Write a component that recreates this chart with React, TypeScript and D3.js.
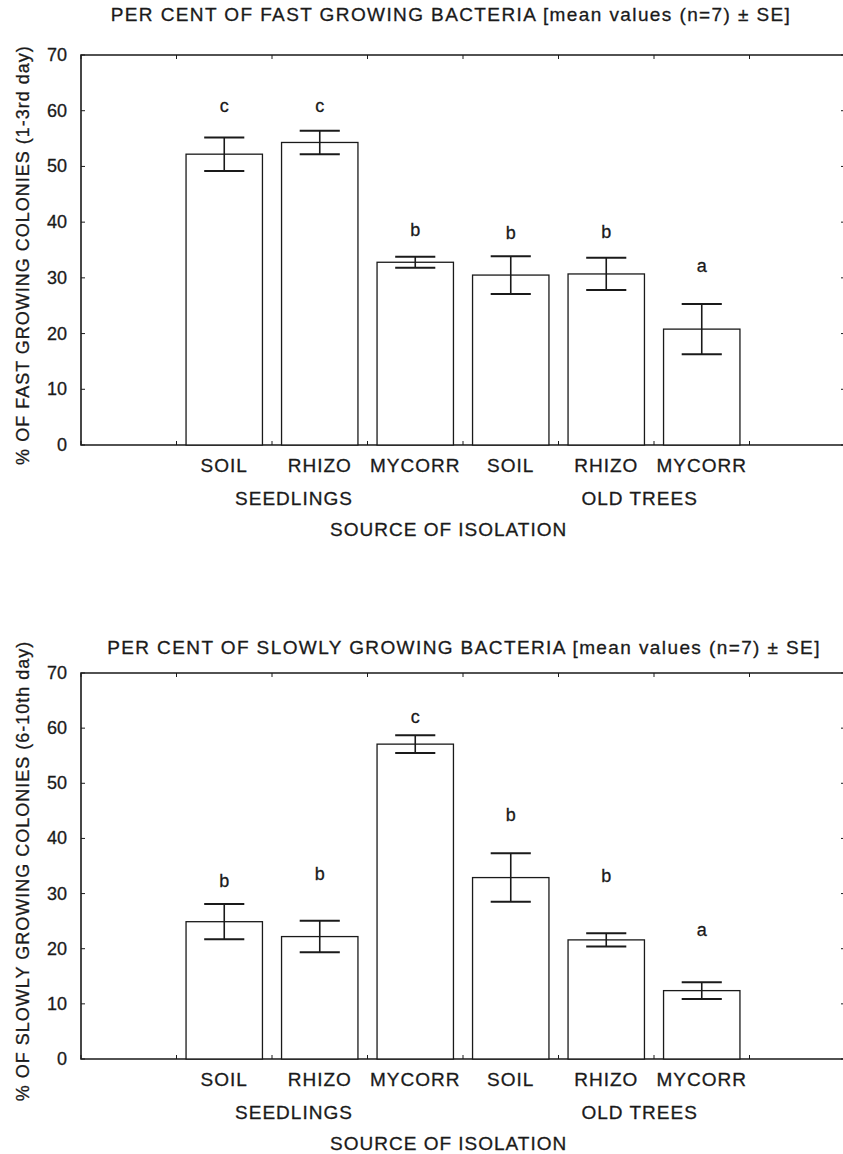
import * as d3 from "d3";

const categories = ["SOIL", "RHIZO", "MYCORR", "SOIL", "RHIZO", "MYCORR"];
const groupLabels = ["SEEDLINGS", "OLD TREES"];
// slot positions (in x-scale units) where the group labels sit
const groupSlots = [2.23, 5.85];
const yTicks = [0, 10, 20, 30, 40, 50, 60, 70];

const fastMeans = [52.2, 54.3, 32.8, 30.5, 30.7, 20.8];
const fastSE = [3.0, 2.1, 1.0, 3.4, 2.9, 4.5];
const fastLetters = ["c", "c", "b", "b", "b", "a"];
const fastLetterLevel = [60.8, 60.8, 38.6, 38.0, 38.3, 32.1];

const slowMeans = [24.9, 22.2, 57.1, 32.9, 21.6, 12.4];
const slowSE = [3.2, 2.85, 1.6, 4.4, 1.2, 1.5];
const slowLetters = ["b", "b", "c", "b", "b", "a"];
const slowLetterLevel = [32.2, 33.6, 62.0, 44.2, 33.1, 23.4];

const font = "'Liberation Sans', Arial, Helvetica, sans-serif";
const ink = "#1a1a1a";
const txt = { stroke: ink, strokeWidth: 0.3 };

type PanelProps = {
  title: string;
  yTitle: string;
  means: number[];
  se: number[];
  letters: string[];
  letterLevel: number[];
  yTop: number;
  yBottom: number;
  titleY: number;
  titleX: number;
};

function Panel({ title, yTitle, means, se, letters, letterLevel, yTop, yBottom, titleY, titleX }: PanelProps) {
  // 8 slots across the frame, bars sit in slots 1..6
  const x = d3.scaleLinear().domain([0, 8]).range([81, 845]);
  const y = d3.scaleLinear().domain([0, 70]).range([yBottom, yTop]);
  const step = x(1) - x(0);
  const barW = step * 0.8;
  const capW = step * 0.42;
  const cx = (i: number) => x(i + 1.5);
  const slots = d3.range(0, 9);

  return (
    <g fontFamily={font} fill={ink}>
      <text x={titleX} y={titleY} fontSize={19} letterSpacing={1.4} textAnchor="middle" {...txt}>
        {title}
      </text>

      {/* frame */}
      <path
        d={`M${x(8)},${y(70)}H${x(0)}V${y(0)}H${x(8)}`}
        fill="none"
        stroke={ink}
        strokeWidth={1.6}
      />
      <line x1={x(8)} x2={x(8)} y1={y(70)} y2={y(0)} stroke={ink} strokeWidth={1.6} />

      {/* small inside ticks */}
      {slots.map((s) => (
        <g key={s}>
          <line x1={x(s)} x2={x(s)} y1={y(0)} y2={y(0) - 4} stroke={ink} strokeWidth={1} />
          <line x1={x(s)} x2={x(s)} y1={y(70)} y2={y(70) + 4} stroke={ink} strokeWidth={1} />
        </g>
      ))}
      {yTicks.map((t) => (
        <g key={t}>
          <line x1={x(0)} x2={x(0) + 4} y1={y(t)} y2={y(t)} stroke={ink} strokeWidth={1} />
          <line x1={x(8)} x2={x(8) - 4} y1={y(t)} y2={y(t)} stroke={ink} strokeWidth={1} />
          <text x={67} y={y(t) + 6} fontSize={18} textAnchor="end" {...txt}>
            {t}
          </text>
        </g>
      ))}

      <text
        transform={`translate(29, ${(y(0) + y(70)) / 2 + 5}) rotate(-90)`}
        fontSize={18}
        letterSpacing={1}
        textAnchor="middle"
        {...txt}
      >
        {yTitle}
      </text>

      {/* bars */}
      {means.map((m, i) => (
        <rect
          key={i}
          x={cx(i) - barW / 2}
          y={y(m)}
          width={barW}
          height={y(0) - y(m)}
          fill="white"
          stroke={ink}
          strokeWidth={1.3}
        />
      ))}

      {/* error bars */}
      {means.map((m, i) => (
        <g key={i} stroke={ink}>
          <line x1={cx(i)} x2={cx(i)} y1={y(m + se[i])} y2={y(m - se[i])} strokeWidth={1.6} />
          <line x1={cx(i) - capW / 2} x2={cx(i) + capW / 2} y1={y(m + se[i])} y2={y(m + se[i])} strokeWidth={2} />
          <line x1={cx(i) - capW / 2} x2={cx(i) + capW / 2} y1={y(m - se[i])} y2={y(m - se[i])} strokeWidth={2} />
        </g>
      ))}

      {letters.map((l, i) => (
        <text key={i} x={cx(i)} y={y(letterLevel[i]) + 6} fontSize={18} textAnchor="middle" {...txt}>
          {l}
        </text>
      ))}

      {/* category labels */}
      {categories.map((c, i) => (
        <text key={i} x={cx(i)} y={y(0) + 27} fontSize={19} letterSpacing={1} textAnchor="middle" {...txt}>
          {c}
        </text>
      ))}
      {groupLabels.map((g, i) => (
        <text
          key={g}
          x={x(groupSlots[i])}
          y={y(0) + 60}
          fontSize={19}
          letterSpacing={1}
          textAnchor="middle"
          {...txt}
        >
          {g}
        </text>
      ))}
      <text x={x(3.85)} y={y(0) + 91} fontSize={19} letterSpacing={1} textAnchor="middle" {...txt}>
        SOURCE OF ISOLATION
      </text>
    </g>
  );
}

export default function App() {
  return (
    <svg
      width={843}
      height={1154}
      viewBox="0 0 843 1154"
      style={{ position: "absolute", left: 0, top: 0, background: "white" }}
    >
      <rect x={0} y={0} width={843} height={1154} fill="white" />
      <Panel
        title="PER CENT OF FAST GROWING BACTERIA [mean values (n=7) ± SE]"
        yTitle="% OF FAST GROWING COLONIES (1-3rd day)"
        means={fastMeans}
        se={fastSE}
        letters={fastLetters}
        letterLevel={fastLetterLevel}
        yTop={55}
        yBottom={445}
        titleY={21}
        titleX={451}
      />
      <Panel
        title="PER CENT OF SLOWLY GROWING BACTERIA [mean values (n=7) ± SE]"
        yTitle="% OF SLOWLY GROWING COLONIES (6-10th day)"
        means={slowMeans}
        se={slowSE}
        letters={slowLetters}
        letterLevel={slowLetterLevel}
        yTop={673}
        yBottom={1059}
        titleY={654}
        titleX={464}
      />
    </svg>
  );
}
